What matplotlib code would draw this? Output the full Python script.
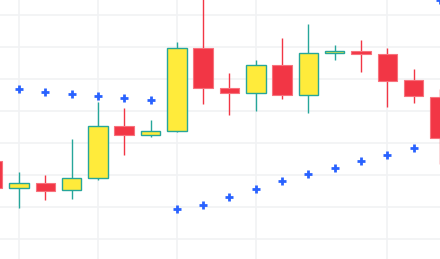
import numpy as np
import matplotlib
matplotlib.use('Agg')
import matplotlib.pyplot as plt

# candles, index -1 is the one cut off at the left edge
idx = np.arange(-1, 17)
opens = [124.5, 116.1, 117.7, 115.5, 119.2, 135.5, 132.7, 133.9, 159.8, 147.3,
         145.8, 154.5, 145.2, 158.3, 158.9, 158.0, 149.8, 144.5]
highs = [125.5, 121.1, 120.2, 131.4, 143.0, 141.1, 137.3, 161.7, 175.0, 152.0,
         156.1, 163.0, 167.3, 160.8, 162.3, 159.8, 153.3, 147.0]
lows = [114.8, 109.8, 112.3, 112.7, 118.6, 126.4, 132.0, 133.6, 142.3, 138.9,
        140.2, 143.9, 139.5, 156.1, 152.3, 141.4, 142.7, 123.6]
closes = [116.1, 117.7, 115.2, 119.2, 135.5, 132.7, 133.9, 159.8, 147.3, 145.8,
          154.5, 145.2, 158.3, 158.9, 158.0, 149.5, 144.8, 131.7]

# parabolic SAR points
sar_idx = np.arange(0, 17)
sar = [147.0, 146.1, 145.5, 144.8, 144.2, 143.6, 109.5, 110.8, 113.3, 115.8,
       118.3, 120.4, 122.3, 124.5, 126.4, 128.6, 174.7]

grid_x = [0, 3, 6, 9, 14]
grid_y = [100, 110, 120, 130, 140, 150, 160, 170]

UP = '#FFEB3B'
UP_EDGE = '#26A69A'
DOWN = '#F23645'
DOWN_EDGE = '#F7727D'

fig = plt.figure(figsize=(4.4, 2.59), dpi=100)
ax = fig.add_axes([0, 0, 1, 1])

for gx in grid_x:
    ax.axvline(gx, color='#f1f2f4', lw=1.2, zorder=0)
for gy in grid_y:
    ax.axhline(gy, color='#f1f2f4', lw=1.2, zorder=0)

o = np.array(opens)
c = np.array(closes)
up = c >= o
bottoms = np.minimum(o, c)
heights = np.abs(c - o)

ax.vlines(idx[up], np.array(lows)[up], np.array(highs)[up], color=UP_EDGE, lw=1, zorder=2)
ax.vlines(idx[~up], np.array(lows)[~up], np.array(highs)[~up], color=DOWN, lw=1, zorder=2)
ax.bar(idx[up], heights[up], bottom=bottoms[up], width=0.74, color=UP,
       edgecolor=UP_EDGE, linewidth=1, zorder=3)
ax.bar(idx[~up], heights[~up], bottom=bottoms[~up], width=0.74, color=DOWN,
       edgecolor=DOWN_EDGE, linewidth=0.8, zorder=3)

ax.plot(sar_idx, sar, linestyle='none', marker='+', markersize=6, mew=2,
        color='#2962FF', zorder=4)

ax.set_xlim(-0.72, 16.0)
ax.set_ylim(93.9, 174.84)
ax.axis('off')

fig.savefig('out.png', dpi=100, facecolor='white')
